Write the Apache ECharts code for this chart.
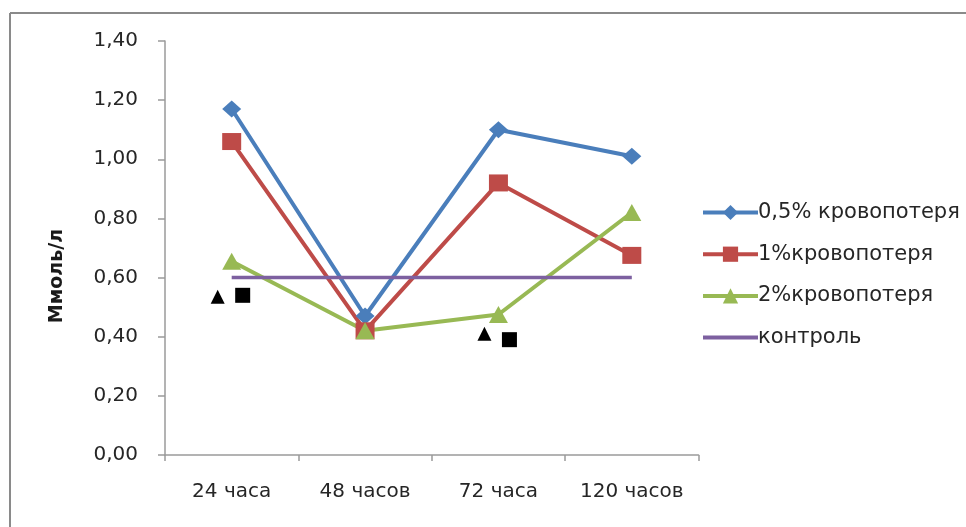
<!DOCTYPE html>
<html>
<head>
<meta charset="utf-8">
<script src="https://cdn.jsdelivr.net/npm/echarts@6/dist/echarts.min.js"></script>
<style>html,body{margin:0;padding:0;background:#fff}#c{width:966px;height:527px}</style>
</head>
<body>
<div id="c"></div>
<script>
var categories = ['24 часа', '48 часов', '72 часа', '120 часов'];
var seriesNames = ['0,5% кровопотеря', '1%кровопотеря', '2%кровопотеря', 'контроль'];
var blood05 = [1.17, 0.47, 1.10, 1.01];
var blood1 = [1.06, 0.42, 0.92, 0.675];
var blood2 = [0.655, 0.42, 0.475, 0.82];
var control = [0.60, 0.60, 0.60, 0.60];
// significance markers (black): triangle and square beside categories
var sigTriangle = [0.535, null, 0.41, null];
var sigSquare = [0.54, null, 0.39, null];
var yTicks = [0, 0.2, 0.4, 0.6, 0.8, 1.0, 1.2, 1.4];
var yTitle = 'Ммоль/л';

var FONT = 'DejaVu Sans';
var colors = ['#4A7EBB', '#BE4B48', '#98B954', '#7D60A0'];
var chart = echarts.init(document.getElementById('c'), null, {renderer: 'canvas'});

function lineSeries(name, data, color, symbol, showSym) {
  return {
    name: name, type: 'line', data: data,
    symbol: symbol, symbolSize: [19, 17], showSymbol: showSym,
    lineStyle: {color: color, width: 4},
    itemStyle: {color: color},
    emphasis: {disabled: true},
    animation: false
  };
}

chart.setOption({
  animation: false,
  backgroundColor: '#ffffff',
  grid: {left: 165, right: 267.5, top: 41, bottom: 72, containLabel: false},
  legend: {
    data: [
      {name: seriesNames[0]},
      {name: seriesNames[1]},
      {name: seriesNames[2]},
      {name: seriesNames[3], itemStyle: {opacity: 0}}
    ],
    orient: 'vertical',
    left: 701, top: 202,
    padding: 0,
    itemWidth: 55, itemHeight: 19, itemGap: 20.7,
    lineStyle: {width: 4},
    textStyle: {fontFamily: FONT, fontSize: 21, color: '#262626', lineHeight: 21, padding: [0, 0, 0, -5]},
    selectedMode: false
  },
  graphic: [
    {type: 'line', shape: {x1: 10, y1: 13, x2: 966, y2: 13}, style: {stroke: '#8a8a8a', lineWidth: 2}},
    {type: 'line', shape: {x1: 10, y1: 13, x2: 10, y2: 527}, style: {stroke: '#8a8a8a', lineWidth: 2}},
    {type: 'text', x: 57, y: 276, rotation: Math.PI / 2,
     style: {text: yTitle, font: 'bold 19px "DejaVu Sans"', fill: '#1a1a1a', align: 'center', verticalAlign: 'middle'}}
  ],
  xAxis: {
    type: 'category', data: categories, boundaryGap: true,
    axisLine: {lineStyle: {color: '#9a9a9a', width: 1.5}},
    axisTick: {show: true, interval: 0, length: 6, lineStyle: {color: '#9a9a9a', width: 1.5}},
    axisLabel: {interval: 0, fontFamily: FONT, fontSize: 20, color: '#262626', margin: 27}
  },
  yAxis: {
    type: 'value', min: 0, max: 1.4, interval: 0.2,
    splitLine: {show: false},
    axisLine: {show: true, lineStyle: {color: '#9a9a9a', width: 1.5}},
    axisTick: {show: true, length: 7, lineStyle: {color: '#9a9a9a', width: 1.5}},
    axisLabel: {fontFamily: FONT, fontSize: 20, color: '#262626', margin: 27,
      formatter: function (v) { return v.toFixed(2).replace('.', ','); }}
  },
  series: [
    lineSeries(seriesNames[0], blood05, colors[0], 'diamond', true),
    lineSeries(seriesNames[1], blood1, colors[1], 'rect', true),
    lineSeries(seriesNames[2], blood2, colors[2], 'triangle', true),
    {name: seriesNames[3], type: 'line', data: control, symbol: 'circle', symbolSize: 1, showSymbol: false,
     lineStyle: {color: colors[3], width: 3.5}, itemStyle: {color: colors[3]}, animation: false},
    {name: 'sigT', type: 'scatter', data: sigTriangle, symbol: 'triangle', symbolSize: [14, 14],
     symbolOffset: [-14, 0], itemStyle: {color: '#000', opacity: 1}, animation: false, z: 5},
    {name: 'sigS', type: 'scatter', data: sigSquare, symbol: 'rect', symbolSize: [15, 15],
     symbolOffset: [11, 0], itemStyle: {color: '#000', opacity: 1}, animation: false, z: 5}
  ]
});
</script>
</body>
</html>
